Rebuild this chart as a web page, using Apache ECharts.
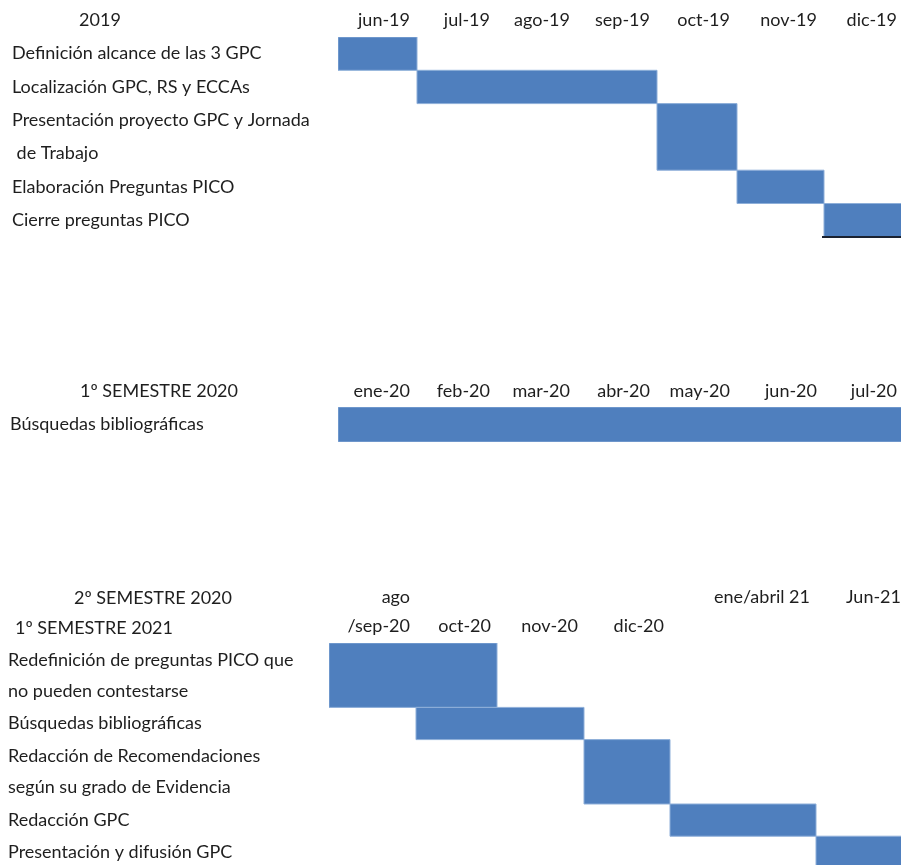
<!DOCTYPE html>
<html>
<head>
<meta charset="utf-8">
<script src="https://cdn.jsdelivr.net/npm/echarts@6/dist/echarts.min.js"></script>
<style>
  html, body { margin: 0; padding: 0; background: #ffffff; }
  #chart { width: 901px; height: 865px; }
</style>
</head>
<body>
<div id="chart"></div>
<script>
// ---- Cronograma: datos ----
const headers = ['2019', '1º SEMESTRE 2020', '2º SEMESTRE 2020', '1º SEMESTRE 2021'];

const months2019 = ['jun-19', 'jul-19', 'ago-19', 'sep-19', 'oct-19', 'nov-19', 'dic-19'];
const tasks2019 = [
  'Definición alcance de las 3 GPC',
  'Localización GPC, RS y ECCAs',
  'Presentación proyecto GPC y Jornada\n de Trabajo',
  'Elaboración Preguntas PICO',
  'Cierre preguntas PICO'
];
const start2019 = [0, 1, 4, 5, 6];   // primera columna (mes) de cada tarea
const end2019   = [1, 4, 5, 6, 7];   // columna siguiente a la última

const months2020 = ['ene-20', 'feb-20', 'mar-20', 'abr-20', 'may-20', 'jun-20', 'jul-20'];
const tasks2020 = ['Búsquedas bibliográficas'];
const start2020 = [0];
const end2020   = [7];

const months2021 = ['ago\n/sep-20', 'oct-20', 'nov-20', 'dic-20', 'ene/abril 21', 'Jun-21'];
const tasks2021 = [
  'Redefinición de preguntas PICO que\nno pueden contestarse',
  'Búsquedas bibliográficas',
  'Redacción de Recomendaciones\nsegún su grado de Evidencia',
  'Redacción GPC',
  'Presentación y difusión GPC'
];
const start2021 = [0, 1, 3, 4, 5];
const end2021   = [2, 3, 4, 5, 6];

// ---- Presentación ----
const FONT = 'Lato, "Noto Sans", sans-serif';
const TEXT = '#1e1e1e';
const BAR = '#4f7fbe';
const BAR_EDGE = '#8eafd9';

const sections = [
  { months: months2019, tasks: tasks2019, start: start2019, end: end2019,
    left: 338, top: 37, lineH: 33.3, colW: [79, 80, 80, 80, 80, 87, 80],
    labelInset: 7, monthMargin: 6, monthLineH: 22, raised: [],
    taskX: 12, taskLineH: 33, underlineLast: true },
  { months: months2020, tasks: tasks2020, start: start2020, end: end2020,
    left: 338, top: 407, lineH: 35, colW: [79, 80, 80, 80, 80, 87, 80],
    labelInset: 7, monthMargin: 5, monthLineH: 22, raised: [],
    taskX: 10, taskLineH: 33, underlineLast: false },
  { months: months2021, tasks: tasks2021, start: start2021, end: end2021,
    left: 329, top: 643, lineH: 32.2, colW: [87, 81, 87, 86, 146, 91],
    labelInset: 6, monthMargin: 2, monthLineH: 29, raised: [4, 5],
    taskX: 8, taskLineH: 31, underlineLast: false }
];

function cumulative(list) {
  const out = [0];
  list.forEach(v => out.push(out[out.length - 1] + v));
  return out;
}
function findIndex(arr, v) {
  for (let i = 0; i < arr.length; i++) if (Math.abs(arr[i] - v) < 1e-6) return i;
  return -1;
}

const grids = [], xAxes = [], yAxes = [], series = [];

sections.forEach((s, k) => {
  const colEdges = cumulative(s.colW);
  const rowLines = s.tasks.map(t => t.split('\n').length);
  const rowEdges = cumulative(rowLines);
  const totalLines = rowEdges[rowEdges.length - 1];
  const width = colEdges[colEdges.length - 1];

  grids.push({
    left: s.left, top: s.top, width: width, height: totalLines * s.lineH,
    containLabel: false, outerBoundsMode: 'none'
  });

  const monthPos = s.months.map((m, i) => colEdges[i + 1] - s.labelInset);
  xAxes.push({
    type: 'value', gridIndex: k, position: 'top', min: 0, max: width,
    axisLine: { show: false }, axisTick: { show: false }, splitLine: { show: false },
    axisLabel: {
      customValues: monthPos,
      align: 'right',
      margin: s.monthMargin,
      hideOverlap: false, showMinLabel: true, showMaxLabel: true,
      color: TEXT, fontFamily: FONT, fontSize: 18, lineHeight: s.monthLineH,
      formatter: v => {
        const i = findIndex(monthPos, v);
        if (i < 0) return '';
        // algunas etiquetas van una línea por encima del resto
        return s.raised.indexOf(i) >= 0 ? s.months[i] + '\n ' : s.months[i];
      }
    }
  });

  const rowCenters = s.tasks.map((t, i) => (rowEdges[i] + rowEdges[i + 1]) / 2);
  yAxes.push({
    type: 'value', gridIndex: k, inverse: true, min: 0, max: totalLines,
    axisLine: { show: false }, axisTick: { show: false }, splitLine: { show: false },
    axisLabel: {
      customValues: rowCenters,
      align: 'left',
      margin: s.left - s.taskX,
      hideOverlap: false, showMinLabel: true, showMaxLabel: true,
      color: TEXT, fontFamily: FONT, fontSize: 18, lineHeight: s.taskLineH,
      formatter: v => {
        const i = findIndex(rowCenters, v);
        return i < 0 ? '' : s.tasks[i];
      }
    }
  });

  const data = s.tasks.map((t, i) => [colEdges[s.start[i]], colEdges[s.end[i]], rowEdges[i], rowEdges[i + 1]]);

  const serie = {
    type: 'custom', xAxisIndex: k, yAxisIndex: k, silent: true, clip: true,
    data: data,
    renderItem: (params, api) => {
      const p0 = api.coord([api.value(0), api.value(2)]);
      const p1 = api.coord([api.value(1), api.value(3)]);
      return {
        type: 'rect',
        shape: { x: p0[0], y: p0[1], width: p1[0] - p0[0], height: p1[1] - p0[1] },
        style: { fill: BAR, stroke: BAR_EDGE, lineWidth: 1 }
      };
    }
  };

  if (s.underlineLast) {
    const last = s.tasks.length - 1;
    serie.markLine = {
      silent: true, symbol: 'none', label: { show: false },
      lineStyle: { color: '#1b2230', width: 2, type: 'solid' },
      data: [[
        { coord: [colEdges[s.start[last]] - 2, rowEdges[last + 1]] },
        { coord: [colEdges[s.end[last]], rowEdges[last + 1]] }
      ]]
    };
  }
  series.push(serie);
});

// Encabezados de cada bloque
const headerStyle = { fill: TEXT, font: '18px ' + FONT, verticalAlign: 'middle' };
const graphic = [
  { type: 'text', x: 100, y: 20, style: Object.assign({ text: headers[0], align: 'center' }, headerStyle) },
  { type: 'text', x: 159, y: 391, style: Object.assign({ text: headers[1], align: 'center' }, headerStyle) },
  { type: 'text', x: 153, y: 598, style: Object.assign({ text: headers[2], align: 'center' }, headerStyle) },
  { type: 'text', x: 15, y: 628, style: Object.assign({ text: headers[3], align: 'left' }, headerStyle) }
];

const chart = echarts.init(document.getElementById('chart'), null, { renderer: 'canvas' });
chart.setOption({
  backgroundColor: '#ffffff',
  animation: false,
  grid: grids,
  xAxis: xAxes,
  yAxis: yAxes,
  series: series,
  graphic: graphic
});
</script>
</body>
</html>
